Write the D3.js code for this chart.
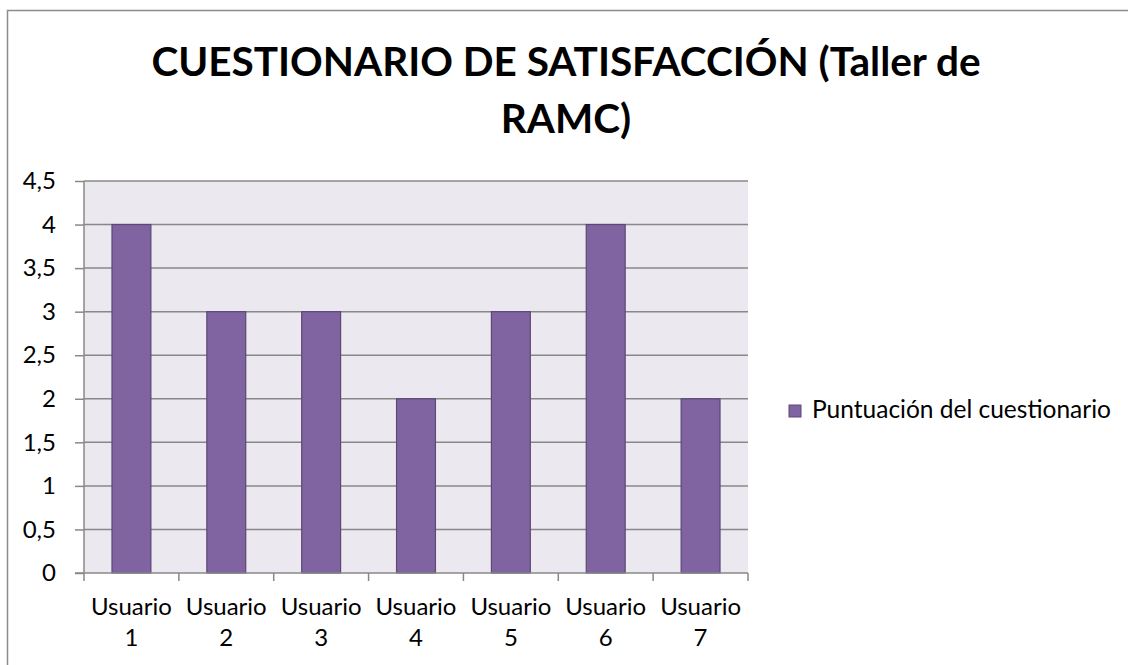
<!DOCTYPE html>
<html>
<head>
<meta charset="utf-8">
<script src="https://cdn.jsdelivr.net/npm/d3@7"></script>
<style>
  body { margin: 0; background: #fff; }
  svg { display: block; }
</style>
</head>
<body>
<div id="chart"></div>
<script>
const categories = ["Usuario 1", "Usuario 2", "Usuario 3", "Usuario 4", "Usuario 5", "Usuario 6", "Usuario 7"];
const values = [4, 3, 3, 2, 3, 4, 2];
const yTicks = [0, 0.5, 1, 1.5, 2, 2.5, 3, 3.5, 4, 4.5];
const seriesName = "Puntuación del cuestionario";
const titleLines = ["CUESTIONARIO DE SATISFACCIÓN (Taller de", "RAMC)"];

const W = 1128, H = 665;
const plot = { left: 84, right: 748, top: 181, bottom: 573 };
const font = "Lato, 'Open Sans', sans-serif";

const svg = d3.select("#chart")
    .append("svg")
    .attr("width", W)
    .attr("height", H);

// outer chart border (right and bottom edges fall outside the picture)
svg.append("rect")
    .attr("x", 7.5).attr("y", 10.5)
    .attr("width", W).attr("height", H)
    .attr("fill", "#fff")
    .attr("stroke", "#8c8c8c")
    .attr("stroke-width", 1.5);

const x = d3.scaleBand()
    .domain(categories)
    .range([plot.left, plot.right]);

const y = d3.scaleLinear()
    .domain([0, 4.5])
    .range([plot.bottom, plot.top]);

// plot background
svg.append("rect")
    .attr("x", plot.left).attr("y", plot.top)
    .attr("width", plot.right - plot.left)
    .attr("height", plot.bottom - plot.top)
    .attr("fill", "#ebe9ef");

// gridlines
svg.append("g")
    .selectAll("line")
    .data(yTicks.filter(d => d > 0))
    .join("line")
    .attr("x1", plot.left).attr("x2", plot.right)
    .attr("y1", d => y(d)).attr("y2", d => y(d))
    .attr("stroke", "#888888")
    .attr("stroke-width", 1.5);

// bars
const barW = x.bandwidth() * 0.41;
svg.append("g")
    .selectAll("rect")
    .data(values)
    .join("rect")
    .attr("x", (d, i) => x(categories[i]) + (x.bandwidth() - barW) / 2)
    .attr("y", d => y(d))
    .attr("width", barW)
    .attr("height", d => y(0) - y(d))
    .attr("fill", "#8064a2")
    .attr("stroke", "#5c4776")
    .attr("stroke-width", 1.2);

// y axis
const yAxis = svg.append("g")
    .attr("transform", `translate(${plot.left},0)`)
    .call(d3.axisLeft(y).tickValues(yTicks).tickSize(9).tickPadding(19)
        .tickFormat(d => String(d).replace(".", ",")));
yAxis.select(".domain").attr("stroke", "#888888").attr("stroke-width", 1.5).attr("d", `M0,${plot.top}V${plot.bottom}`);
yAxis.selectAll(".tick line").attr("stroke", "#888888").attr("stroke-width", 1.5);
yAxis.selectAll("text")
    .attr("font-family", font)
    .attr("font-size", 24)
    .attr("fill", "#000");

// x axis
const xAxis = svg.append("g")
    .attr("transform", `translate(0,${plot.bottom})`);
xAxis.append("line")
    .attr("x1", plot.left - 9).attr("x2", plot.right)
    .attr("stroke", "#888888").attr("stroke-width", 1.5);
xAxis.selectAll(".xt")
    .data(d3.range(categories.length + 1))
    .join("line")
    .attr("class", "xt")
    .attr("x1", i => i < categories.length ? x(categories[i]) : plot.right)
    .attr("x2", i => i < categories.length ? x(categories[i]) : plot.right)
    .attr("y1", 0).attr("y2", 8)
    .attr("stroke", "#888888").attr("stroke-width", 1.5);

const lbl = xAxis.selectAll(".xl")
    .data(categories)
    .join("text")
    .attr("class", "xl")
    .attr("text-anchor", "middle")
    .attr("font-family", font)
    .attr("font-size", 24)
    .attr("fill", "#000");
lbl.append("tspan")
    .attr("x", d => x(d) + x.bandwidth() / 2)
    .attr("y", 42)
    .text(d => d.split(" ")[0]);
lbl.append("tspan")
    .attr("x", d => x(d) + x.bandwidth() / 2)
    .attr("y", 73)
    .text(d => d.split(" ")[1]);

// title
svg.append("g")
    .selectAll("text")
    .data(titleLines)
    .join("text")
    .attr("x", 566)
    .attr("y", (d, i) => 76 + i * 57)
    .attr("text-anchor", "middle")
    .attr("font-family", font)
    .attr("font-weight", "bold")
    .attr("font-size", 40.5)
    .attr("fill", "#000")
    .text(d => d);

// legend
const legend = svg.append("g").attr("transform", "translate(789,405)");
legend.append("rect")
    .attr("width", 12).attr("height", 12)
    .attr("fill", "#8064a2")
    .attr("stroke", "#5c4776");
legend.append("text")
    .attr("x", 23).attr("y", 13)
    .attr("font-family", font)
    .attr("font-size", 24.5)
    .attr("fill", "#000")
    .text(seriesName);
</script>
</body>
</html>
